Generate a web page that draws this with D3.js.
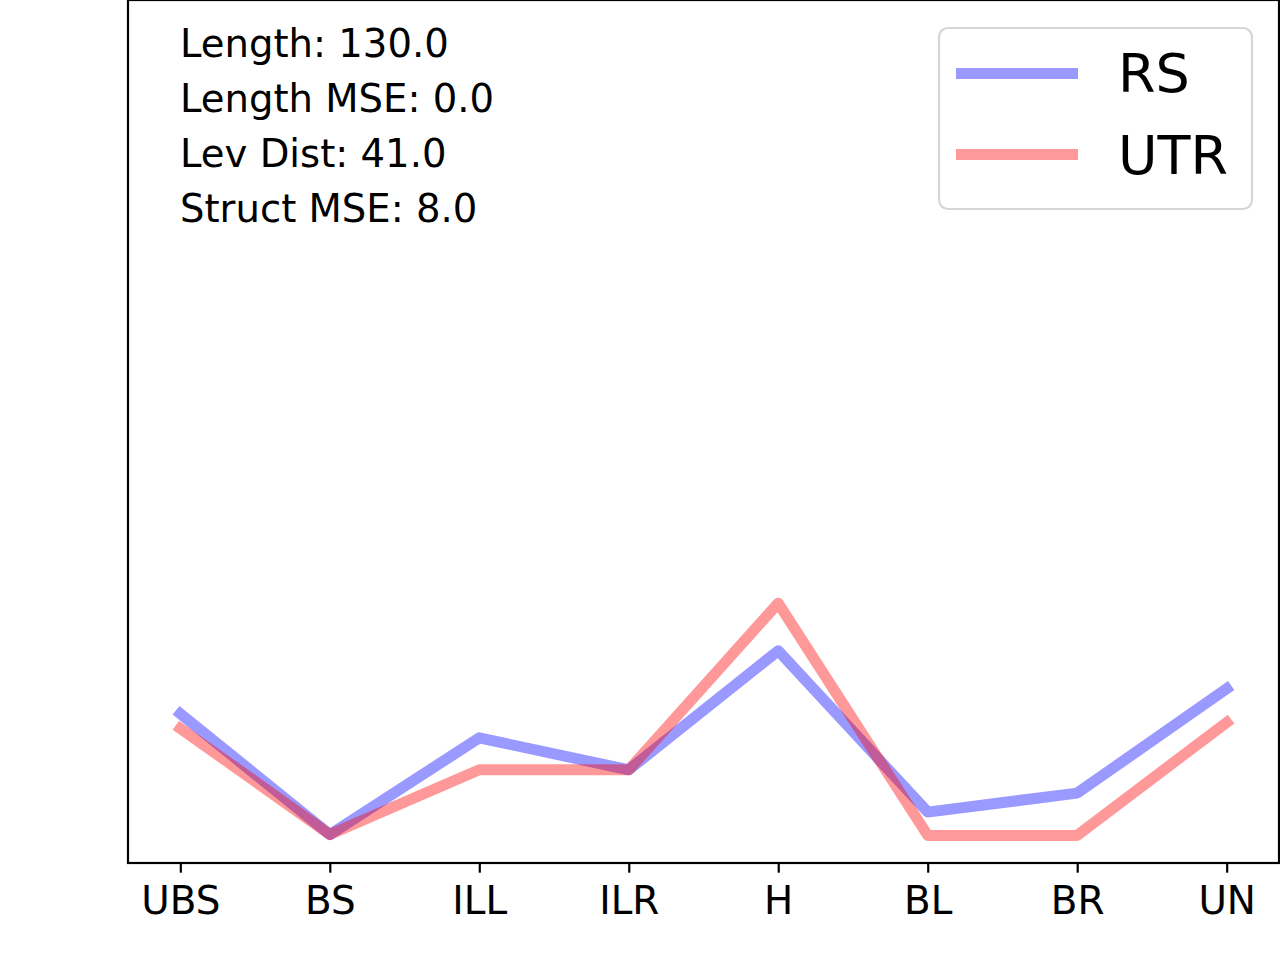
<!DOCTYPE html>
<html>
<head>
<meta charset="utf-8">
<script src="https://cdn.jsdelivr.net/npm/d3@7"></script>
<style>
  body { margin: 0; background: #ffffff; }
  text { font-family: "DejaVu Sans", sans-serif; }
</style>
</head>
<body>
<div id="graph"></div>
<script>
const categories = ["UBS", "BS", "ILL", "ILR", "H", "BL", "BR", "UN"];

const rsValues  = [0.173, 0.033, 0.145, 0.108, 0.246, 0.059, 0.081, 0.202];
const utrValues = [0.156, 0.033, 0.108, 0.108, 0.301, 0.032, 0.032, 0.163];

const seriesNames = ["RS", "UTR"];

const infoLines = [
  "Length: 130.0",
  "Length MSE: 0.0",
  "Lev Dist: 41.0",
  "Struct MSE: 8.0"
];

// set the dimensions and margins of the graph
var margin = {top: 0, right: 1, bottom: 97, left: 128},
    width = 1280 - margin.left - margin.right,
    height = 960 - margin.top - margin.bottom;

var svg = d3.select("#graph").append("svg")
    .attr("width", 1280)
    .attr("height", 960)
  .append("g")
    .attr("transform", "translate(" + margin.left + "," + margin.top + ")");

var x = d3.scalePoint()
    .domain(categories)
    .range([0, width])
    .padding(0.35);

var y = d3.scaleLinear()
    .domain([0, 1])
    .range([height, 0]);

var series = [
  {name: seriesNames[0], values: rsValues, color: "blue"},
  {name: seriesNames[1], values: utrValues, color: "red"}
];

var line = d3.line()
    .x(function(d, i) { return x(categories[i]); })
    .y(function(d) { return y(d); });

series.forEach(function(s) {
  svg.append("path")
    .datum(s.values)
    .attr("d", line)
    .attr("fill", "none")
    .attr("stroke", s.color)
    .attr("stroke-opacity", 0.4)
    .attr("stroke-width", 11)
    .attr("stroke-linejoin", "round")
    .attr("stroke-linecap", "square");
});

// x axis
var xAxis = svg.append("g")
    .attr("transform", "translate(0," + height + ")")
    .call(d3.axisBottom(x).tickSize(9.7).tickPadding(12));

xAxis.select(".domain").remove();
xAxis.selectAll(".tick line")
    .attr("stroke", "#000")
    .attr("stroke-width", 2.2);
xAxis.selectAll(".tick text")
    .attr("font-size", "38.9px")
    .attr("fill", "#000")
    .attr("dy", "0.76em");

// frame
svg.append("rect")
    .attr("x", 0)
    .attr("y", 0)
    .attr("width", width)
    .attr("height", height)
    .attr("fill", "none")
    .attr("stroke", "#000")
    .attr("stroke-width", 2.2);

// info text
svg.selectAll(".info")
  .data(infoLines)
  .enter().append("text")
    .attr("class", "info")
    .attr("x", 52)
    .attr("y", function(d, i) { return 57 + i * 55; })
    .attr("font-size", "38.6px")
    .attr("fill", "#000")
    .text(function(d) { return d; });

// legend
var legend = svg.append("g")
    .attr("transform", "translate(" + (939 - margin.left) + ",28)");

legend.append("rect")
    .attr("width", 313)
    .attr("height", 181)
    .attr("rx", 9)
    .attr("fill", "#fff")
    .attr("fill-opacity", 0.8)
    .attr("stroke", "#cccccc")
    .attr("stroke-opacity", 0.8)
    .attr("stroke-width", 2.2);

series.forEach(function(s, i) {
  legend.append("line")
    .attr("x1", 17)
    .attr("x2", 139)
    .attr("y1", 45.5 + i * 81)
    .attr("y2", 45.5 + i * 81)
    .attr("stroke", s.color)
    .attr("stroke-opacity", 0.4)
    .attr("stroke-width", 11);

  legend.append("text")
    .attr("x", 179)
    .attr("y", 64 + i * 82)
    .attr("font-size", "54px")
    .attr("fill", "#000")
    .text(s.name);
});
</script>
</body>
</html>
